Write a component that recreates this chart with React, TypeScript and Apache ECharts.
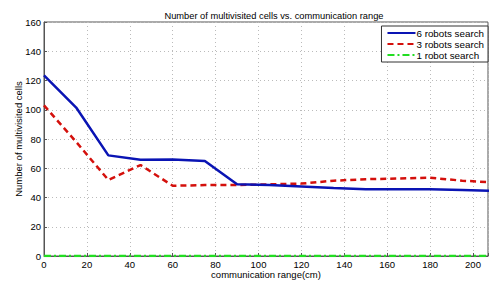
import React, { useEffect, useRef } from "react";
import * as echarts from "echarts";

const xRange = [0, 15, 30, 45, 60, 75, 90, 105, 120, 135, 150, 165, 180, 195, 210];
const robots6 = [123.5, 101.5, 68.8, 65.8, 66, 65, 49, 48.5, 47.5, 46.5, 45.6, 45.6, 45.6, 45.1, 44.6];
const robots3 = [103, 78, 52, 62.2, 48, 48.5, 48.5, 49, 49.5, 51.5, 52.5, 53, 53.5, 51.5, 50.3];
const robots1 = [0, 0, 0, 0, 0, 0, 0, 0, 0, 0, 0, 0, 0, 0, 0];
const seriesNames = ["6 robots search", "3 robots search", "1 robot search"];

const FONT = "'Liberation Sans', Arial, sans-serif";

export default function App() {
  const ref = useRef<HTMLDivElement>(null);
  useEffect(() => {
    if (!ref.current) return;
    const chart = echarts.init(ref.current, undefined, { renderer: "svg" });
    const mk = (arr: number[]) => xRange.map((x, i) => [x, arr[i]]);
    chart.setOption({
      animation: false,
      backgroundColor: "#ffffff",
      textStyle: { fontFamily: FONT },
      title: {
        text: "Number of multivisited cells vs. communication range",
        left: 269,
        top: 6,
        textAlign: "center",
        textStyle: { fontSize: 9.3, fontWeight: "normal", color: "#000", fontFamily: FONT },
      },
      grid: {
        left: 44,
        top: 22,
        right: 1,
        bottom: 26,
        outerBoundsMode: "none",
        containLabel: false,
        show: true,
        borderColor: "#555",
        borderWidth: 1,
        backgroundColor: "transparent",
      },
      legend: {
        right: 1,
        top: 26,
        orient: "vertical",
        itemGap: 1,
        itemWidth: 28,
        itemHeight: 10,
        backgroundColor: "#fff",
        borderColor: "#333",
        borderWidth: 1,
        padding: [2, 4, 2, 5],
        itemStyle: { opacity: 0, borderWidth: 0 },
        textStyle: { fontSize: 9.8, color: "#000", fontFamily: FONT, padding: [0, 0, 0, -4] },
        data: seriesNames,
      },
      xAxis: {
        type: "value",
        min: 0,
        max: 207,
        interval: 20,
        name: "communication range(cm)",
        nameLocation: "middle",
        nameGap: 13,
        nameMoveOverlap: false,
        nameTextStyle: { fontSize: 9.5, color: "#000", fontFamily: FONT },
        axisLine: { show: true, onZero: false, lineStyle: { color: "#555" } },
        axisTick: { show: true, inside: true, length: 3, lineStyle: { color: "#555" } },
        axisLabel: {
          fontSize: 9.5,
          color: "#000",
          margin: 3,
          fontFamily: FONT,
          formatter: (v: number) => (v % 20 === 0 ? String(v) : ""),
        },
        splitLine: { show: true, lineStyle: { color: "#bbb", type: [1, 3] } },
      },
      yAxis: {
        type: "value",
        min: 0,
        max: 160,
        interval: 20,
        name: "Number of multivisited cells",
        nameLocation: "middle",
        nameGap: 21,
        nameMoveOverlap: false,
        nameTextStyle: { fontSize: 9.5, color: "#000", fontFamily: FONT },
        axisLine: { show: true, lineStyle: { color: "#555" } },
        axisTick: { show: true, inside: true, length: 3, lineStyle: { color: "#555" } },
        axisLabel: { fontSize: 9.5, color: "#000", margin: 3, fontFamily: FONT },
        splitLine: { show: true, lineStyle: { color: "#bbb", type: [1, 3] } },
      },
      series: [
        {
          name: seriesNames[0],
          type: "line",
          data: mk(robots6),
          symbol: "none",
          color: "#0a14b4",
          lineStyle: { color: "#0a14b4", width: 2.5 },
          z: 3,
        },
        {
          name: seriesNames[1],
          type: "line",
          data: mk(robots3),
          symbol: "none",
          color: "#d4100c",
          lineStyle: { color: "#d4100c", width: 2.5, type: [6, 4] },
          z: 2,
        },
        {
          name: seriesNames[2],
          type: "line",
          data: mk(robots1),
          symbol: "none",
          color: "#22dd22",
          lineStyle: { color: "#22dd22", width: 2.5, type: [7, 3, 2, 3] },
          z: 4,
        },
      ],
    });
    return () => chart.dispose();
  }, []);
  return <div ref={ref} style={{ width: 489, height: 282, position: "fixed", left: 0, top: 0 }} />;
}
